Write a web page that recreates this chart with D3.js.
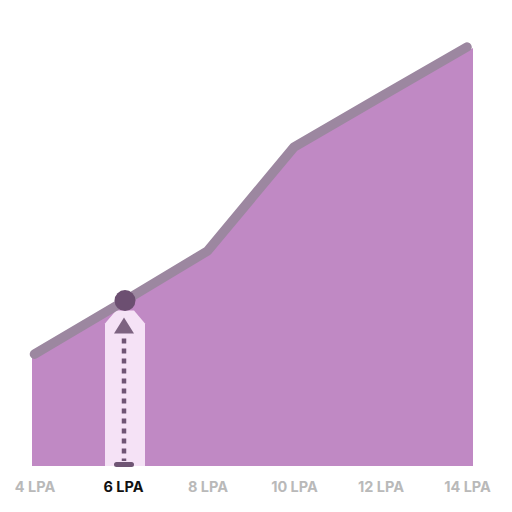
<!DOCTYPE html>
<html>
<head>
<meta charset="utf-8">
<script src="https://cdn.jsdelivr.net/npm/d3@7"></script>
<style>
  html, body { margin: 0; padding: 0; background: #ffffff; }
  svg { display: block; }
</style>
</head>
<body>
<svg id="chart" width="512" height="512"></svg>
<script>
// ---- data ----
const salaries = [4, 6, 8, 10, 12, 14];           // LPA categories
const growth   = [26.7, 38.9, 51.3, 76.1, 88.1, 100]; // relative level
const tickLabels = ["4 LPA", "6 LPA", "8 LPA", "10 LPA", "12 LPA", "14 LPA"];
const selected = 6;

const data = salaries.map((s, i) => ({ s, v: growth[i] }));

const svg = d3.select("#chart");

const xLine = d3.scaleLinear().domain([4, 14]).range([34.5, 467]);
const xArea = d3.scaleLinear().domain([4, 14]).range([32, 473]);
const y = d3.scaleLinear().domain([0, 100]).range([466, 47]);

// area
const area = d3.area()
  .x(d => xArea(d.s))
  .y0(y(0))
  .y1(d => y(d.v) + 1);

svg.append("path")
  .datum(data)
  .attr("d", area)
  .attr("fill", "#c089c4");

// highlight band
const hx = xLine(selected) + 4;
const lineYAt = (px) => {
  for (let i = 0; i < data.length - 1; i++) {
    const xa = xLine(data[i].s), xb = xLine(data[i + 1].s);
    if (px >= xa && px <= xb) {
      const t = (px - xa) / (xb - xa);
      return y(data[i].v) + t * (y(data[i + 1].v) - y(data[i].v));
    }
  }
  return y(data[0].v);
};
const cy = lineYAt(hx);

const bandHalf = 20;
const band = d3.path();
band.moveTo(hx - bandHalf, y(0));
band.lineTo(hx - bandHalf, cy + 23);
band.lineTo(hx - 9, cy + 10);
band.lineTo(hx + 9, cy + 10);
band.lineTo(hx + bandHalf, cy + 23);
band.lineTo(hx + bandHalf, y(0));
band.closePath();
svg.append("path")
  .attr("d", band.toString())
  .attr("fill", "#f5e2f6");

// line
const line = d3.line()
  .x(d => xLine(d.s))
  .y(d => y(d.v));

svg.append("path")
  .datum(data)
  .attr("d", line)
  .attr("fill", "none")
  .attr("stroke", "#9c87a0")
  .attr("stroke-width", 9.5)
  .attr("stroke-linecap", "round")
  .attr("stroke-linejoin", "round");

// dotted indicator
svg.append("line")
  .attr("x1", hx - 1).attr("x2", hx - 1)
  .attr("y1", cy + 38).attr("y2", y(0) - 5)
  .attr("stroke", "#6f5574")
  .attr("stroke-width", 4.5)
  .attr("stroke-dasharray", "5,5");

// triangle
const tri = d3.path();
tri.moveTo(hx - 1, cy + 17);
tri.lineTo(hx - 11, cy + 33);
tri.lineTo(hx + 9, cy + 33);
tri.closePath();
svg.append("path")
  .attr("d", tri.toString())
  .attr("fill", "#7d6381");

// bottom bar
svg.append("rect")
  .attr("x", hx - 11).attr("y", y(0) - 4)
  .attr("width", 20).attr("height", 5)
  .attr("rx", 2.5)
  .attr("fill", "#6f5574");

// circle
svg.append("circle")
  .attr("cx", hx).attr("cy", cy)
  .attr("r", 10.5)
  .attr("fill", "#6c4f71");

// x axis labels
const axis = d3.axisBottom(xLine)
  .tickValues(salaries)
  .tickSize(0)
  .tickPadding(0)
  .tickFormat((d, i) => tickLabels[i]);

const g = svg.append("g")
  .attr("transform", `translate(0, 480)`)
  .call(axis);
g.select(".domain").remove();
g.selectAll("text")
  .attr("dy", "0.71em")
  .attr("y", 2)
  .style("font-family", "Inter, 'Noto Sans', sans-serif")
  .style("font-weight", 700)
  .style("font-size", "14.5px")
  .attr("fill", d => d === selected ? "#111111" : "#b9b9b9")
  .attr("dx", d => d === selected ? 2 : 0);
</script>
</body>
</html>
